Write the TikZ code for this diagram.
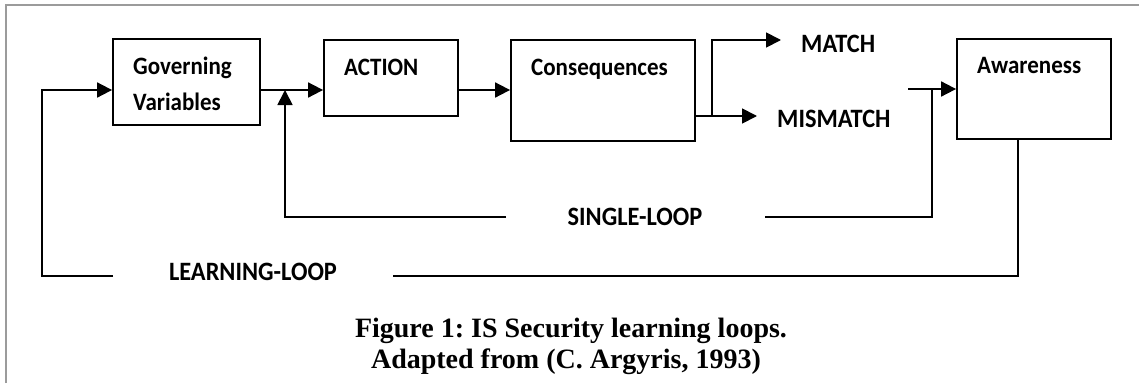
\documentclass[tikz,border=0pt]{standalone}
\usepackage{fontspec}
\setmainfont{Carlito}
\newfontfamily\lblfont[FakeStretch=0.92]{Carlito}
\newfontfamily\capfont{Liberation Serif}
\usetikzlibrary{arrows.meta}
\definecolor{framegray}{RGB}{155,155,155}
\frenchspacing
\begin{document}
\begin{tikzpicture}[x=1pt,y=-1pt,
  box/.style={draw, line width=1.8pt, inner sep=0pt},
  lbl/.style={inner sep=0pt, font=\lblfont\fontsize{25}{28}\selectfont\bfseries},
  biglbl/.style={inner sep=0pt, font=\lblfont\fontsize{26.5}{28}\selectfont\bfseries},
  captext/.style={inner sep=0pt, font=\fontsize{28}{31}\selectfont\capfont\bfseries\frenchspacing, align=center},
  conn/.style={line width=1.8pt},
  arr/.style={line width=1.8pt, -{Triangle[length=15pt,width=15pt]}}]
\useasboundingbox (0,0) rectangle (1139,383);
% frame
\draw[framegray, line width=2pt] (5.5,383) -- (5.5,4.5) -- (1139,4.5);
% boxes
\node[box, minimum width=147pt, minimum height=86pt] (gv) at (186.5,82) {};
\node[box, minimum width=134pt, minimum height=76pt] (act) at (391,78) {};
\node[box, minimum width=184pt, minimum height=101pt] (cons) at (603,90.5) {};
\node[box, minimum width=154pt, minimum height=100pt] (aw) at (1034,89) {};
% box labels
\node[lbl, anchor=base west] (gvt1) at (133,74) {Governing};
\node[lbl, anchor=base west] (gvt2) at (133,110) {Variables};
\node[lbl, anchor=base west] (actt) at (344,75) {ACTION};
\node[lbl, anchor=base west] (const) at (531,75) {Consequences};
\node[lbl, anchor=base west] (awt) at (977,73) {Awareness};
\node[biglbl, anchor=base west] (match) at (801,52) {MATCH};
\node[biglbl, anchor=base west] (mismatch) at (777,127) {MISMATCH};
\node[biglbl, anchor=base] (single) at (635,225) {SINGLE-LOOP};
\node[biglbl, anchor=base] (learn) at (253,280) {LEARNING-LOOP};
% caption
\node[captext, anchor=base] (cap1) at (571,337) {Figure 1: IS Security learning loops.};
\node[captext, anchor=base] (cap2) at (566,368) {Adapted from (C. Argyris, 1993)};
% coordinates
\coordinate (lt) at (42,90);
\coordinate (lc) at (42,276);
\coordinate (llL) at (113,276);
\coordinate (llR) at (393,276);
\coordinate (awc) at (1018,276);
\coordinate (st) at (285,90);
\coordinate (sc2) at (285,217);
\coordinate (slL) at (506,217);
\coordinate (slR) at (765,217);
\coordinate (sc) at (932,217);
\coordinate (sj) at (932,89);
\coordinate (ai) at (908,89);
\coordinate (cs) at (712,116);
\coordinate (mc) at (712,40);
\coordinate (mme) at (757,116);
\coordinate (me) at (781,40);
\coordinate (ay) at (0,90);
% main flow
\draw[arr] (gv.east |- ay) -- (act.west |- ay);
\draw[arr] (act.east |- ay) -- (cons.west |- ay);
\draw[conn] (cons.east |- cs) -- (cs);
\draw[arr] (cs) -- (mme);
\draw[arr] (cs) -- (mc) -- (me);
\draw[arr] (ai) -- (aw.west |- ai);
% single loop
\draw[conn] (sj) -- (sc) -- (slR);
\draw[arr] (slL) -- (sc2) -- (st);
% learning loop
\draw[conn] (aw.south -| awc) -- (awc) -- (llR);
\draw[arr] (llL) -- (lc) -- (lt) -- (gv.west |- lt);
\end{tikzpicture}
\end{document}
